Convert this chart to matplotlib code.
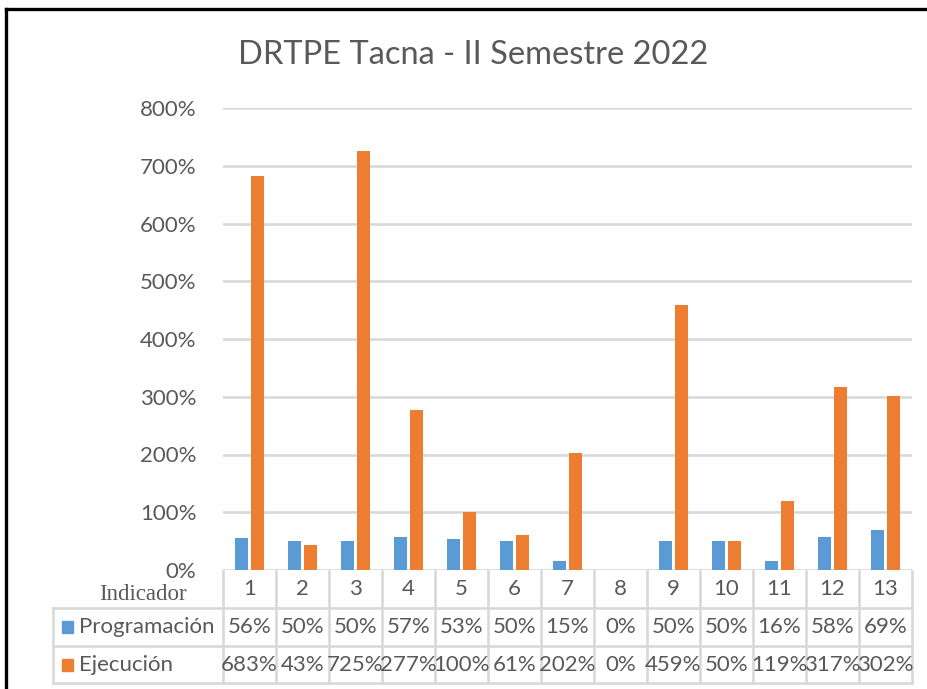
import matplotlib
matplotlib.use("Agg")
import matplotlib.pyplot as plt
from matplotlib.transforms import blended_transform_factory
from matplotlib.lines import Line2D
from matplotlib.patches import Rectangle

categories = ["1", "2", "3", "4", "5", "6", "7", "8", "9", "10", "11", "12", "13"]
programacion = [56, 50, 50, 57, 53, 50, 15, 0, 50, 50, 16, 58, 69]
ejecucion = [683, 43, 725, 277, 100, 61, 202, 0, 459, 50, 119, 317, 302]
series_names = ["Programación", "Ejecución"]
yticks = [0, 100, 200, 300, 400, 500, 600, 700, 800]
title = "DRTPE Tacna - II Semestre 2022"
x_title = "Indicador"

BLUE = "#5B9BD5"
ORANGE = "#ED7D31"
GRID = "#D9D9D9"
TXT = "#595959"
FONT = "Lato"
FS = 16

W, H = 927, 689
fig = plt.figure(figsize=(W / 100, H / 100), dpi=100)
fig.patch.set_facecolor("white")

def fy(py):
    return 1 - py / H

def fx(px):
    return px / W

ax_left, ax_right, ax_top, ax_bot = 223, 912, 108, 570
ax = fig.add_axes([fx(ax_left), fy(ax_bot), fx(ax_right - ax_left), (ax_bot - ax_top) / H])

n = len(categories)
xs = list(range(n))
bw = 0.235
off = 0.155
ax.bar([x - off for x in xs], programacion, width=bw, color=BLUE, zorder=3)
ax.bar([x + off for x in xs], ejecucion, width=bw, color=ORANGE, zorder=3)

ax.set_xlim(-0.5, n - 0.5)
ax.set_ylim(0, 800)
ax.set_yticks(yticks)
ax.set_yticklabels([f"{v}%" for v in yticks], fontsize=FS, color=TXT, fontfamily=FONT)
ax.tick_params(axis="y", length=0, pad=19)
ax.set_xticks([])
for s in ax.spines.values():
    s.set_visible(False)
ax.yaxis.grid(True, color=GRID, linewidth=1.9, zorder=0)
ax.set_axisbelow(True)

fig.text(fx(473), fy(55), title, ha="center", va="center", fontsize=23.5, color=TXT, fontfamily=FONT)

# Data table below the axes
tr = blended_transform_factory(ax.transData, fig.transFigure)
lab_left = 53
lw = 1.9

def hline(py, x0, x1):
    fig.add_artist(Line2D([fx(x0), fx(x1)], [fy(py), fy(py)], color=GRID, lw=lw, transform=fig.transFigure))

def vline(px, y0, y1):
    fig.add_artist(Line2D([fx(px), fx(px)], [fy(y0), fy(y1)], color=GRID, lw=lw, transform=fig.transFigure))

for py in (608, 646, 683):
    hline(py, lab_left, ax_right)
vline(lab_left, 608, 683)
for i in range(n + 1):
    xdata = i - 0.5
    fig.add_artist(Line2D([xdata, xdata], [fy(571), fy(683)], color=GRID, lw=lw, transform=tr))

for i, c in enumerate(categories):
    fig.text(i, fy(589), c, transform=tr, ha="center", va="center", fontsize=FS, color=TXT, fontfamily=FONT)
    fig.text(i, fy(627), f"{programacion[i]}%", transform=tr, ha="center", va="center", fontsize=FS, color=TXT, fontfamily=FONT)
    fig.text(i, fy(665), f"{ejecucion[i]}%", transform=tr, ha="center", va="center", fontsize=FS, color=TXT, fontfamily=FONT)

for name, col, cy in ((series_names[0], BLUE, 627), (series_names[1], ORANGE, 665)):
    fig.add_artist(Rectangle((fx(62), fy(cy + 6)), 11 / W, 12 / H, color=col, transform=fig.transFigure))
    fig.text(fx(79), fy(cy), name, ha="left", va="center", fontsize=FS, color=TXT, fontfamily=FONT)

fig.text(fx(143), fy(594), x_title, ha="center", va="center", fontsize=16.5, color=TXT, fontfamily="Liberation Serif")

# Black frame (left and top)
fig.add_artist(Line2D([fx(6), fx(6)], [fy(9), 0], color="black", lw=2.4, transform=fig.transFigure))
fig.add_artist(Line2D([fx(6), 1], [fy(9), fy(9)], color="black", lw=2.4, transform=fig.transFigure))

fig.savefig("out.png", dpi=100, facecolor="white")
